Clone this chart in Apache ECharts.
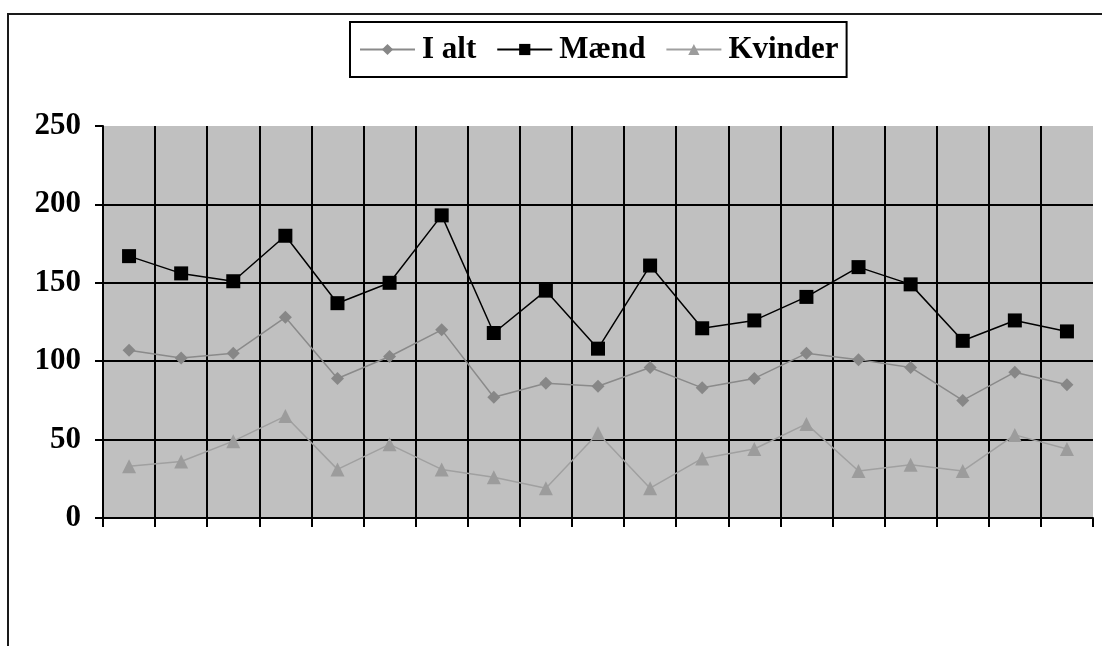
<!DOCTYPE html>
<html>
<head>
<meta charset="utf-8">
<script src="https://cdn.jsdelivr.net/npm/echarts@6/dist/echarts.min.js"></script>
<style>
html,body{margin:0;padding:0;background:#fff;}
#chart{width:1102px;height:646px;}
</style>
</head>
<body>
<div id="chart"></div>
<script>
const categories = ['1','2','3','4','5','6','7','8','9','10','11','12','13','14','15','16','17','18','19'];
const seriesNames = ['I alt', 'Mænd', 'Kvinder'];
const iAlt    = [107, 102, 105, 128, 89, 103, 120, 77, 86, 84, 96, 83, 89, 105, 101, 96, 75, 93, 85];
const maend   = [167, 156, 151, 180, 137, 150, 193, 118, 145, 108, 161, 121, 126, 141, 160, 149, 113, 126, 119];
const kvinder = [33, 36, 49, 65, 31, 47, 31, 26, 19, 54, 19, 38, 44, 60, 30, 34, 30, 53, 44];
const yTicks = [0, 50, 100, 150, 200, 250];

const FONT = 'Liberation Serif';
const chart = echarts.init(document.getElementById('chart'), null, {renderer: 'canvas'});
chart.setOption({
  backgroundColor: '#ffffff',
  animation: false,
  graphic: [{
    type: 'rect',
    shape: {x: 8, y: 14, width: 1200, height: 800},
    style: {fill: 'none', stroke: '#1a1a1a', lineWidth: 2},
    silent: true,
    z: 100
  }],
  legend: {
    left: 350,
    top: 22,
    orient: 'horizontal',
    data: seriesNames,
    itemWidth: 55,
    itemHeight: 14,
    itemGap: 20,
    padding: [12, 8, 12, 9],
    borderColor: '#000',
    borderWidth: 2,
    textStyle: {fontFamily: FONT, fontWeight: 'bold', fontSize: 31, color: '#000', padding: [0, 0, 0, 2]}
  },
  grid: {
    left: 103, right: 9, top: 126, bottom: 128,
    show: true, backgroundColor: '#c0c0c0', borderWidth: 0
  },
  xAxis: {
    type: 'category',
    data: categories,
    boundaryGap: true,
    axisLine: {show: true, lineStyle: {color: '#000', width: 2}},
    axisTick: {show: true, length: 9, lineStyle: {color: '#000', width: 2}},
    axisLabel: {show: false},
    splitLine: {show: true, showMinLine: false, showMaxLine: false, lineStyle: {color: '#000', width: 2}}
  },
  yAxis: {
    type: 'value',
    min: yTicks[0],
    max: yTicks[yTicks.length - 1],
    interval: 50,
    axisLine: {show: true, lineStyle: {color: '#000', width: 2}},
    axisTick: {show: true, length: 8, lineStyle: {color: '#000', width: 2}},
    axisLabel: {margin: 22, fontFamily: FONT, fontWeight: 'bold', fontSize: 31, color: '#000'},
    splitLine: {show: true, showMinLine: false, showMaxLine: false, lineStyle: {color: '#000', width: 2}}
  },
  series: [
    {
      name: seriesNames[0], type: 'line', data: iAlt,
      symbol: 'diamond', symbolSize: 13,
      itemStyle: {color: '#878787'},
      lineStyle: {color: '#8a8a8a', width: 1.5},
      z: 3
    },
    {
      name: seriesNames[1], type: 'line', data: maend,
      symbol: 'rect', symbolSize: 14,
      itemStyle: {color: '#000'},
      lineStyle: {color: '#000', width: 1.5},
      z: 4
    },
    {
      name: seriesNames[2], type: 'line', data: kvinder,
      symbol: 'triangle', symbolSize: 14,
      itemStyle: {color: '#9c9c9c'},
      lineStyle: {color: '#a0a0a0', width: 1.5},
      z: 2
    }
  ]
});
</script>
</body>
</html>
